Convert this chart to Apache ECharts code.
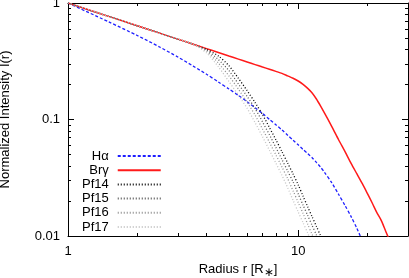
<!DOCTYPE html>
<html>
<head>
<meta charset="utf-8">
<script src="https://cdn.jsdelivr.net/npm/echarts@6/dist/echarts.min.js"></script>
<style>
html,body{margin:0;padding:0;background:#fff;}
#chart{width:409px;height:278px;}
</style>
</head>
<body>
<div id="chart"></div>
<script>
// Radius grid (in stellar radii)
var radius = [1, 1.5, 2, 2.5, 3, 3.5, 4, 4.5, 5, 5.5, 6, 6.5, 7, 7.5, 8, 8.5, 9, 9.5, 10, 10.5, 11, 11.5, 12, 12.5, 13, 14, 15, 16, 17, 18, 19, 20, 21, 22, 23, 24, 25];

// Normalized intensity profiles I(r)
var halpha = [1, 0.69, 0.526, 0.419, 0.344, 0.287, 0.2445, 0.21, 0.183, 0.161, 0.142, 0.126, 0.1125, 0.1003, 0.0901, 0.0813, 0.0733, 0.0665, 0.0606, 0.0553, 0.051, 0.047, 0.0428, 0.039, 0.0353, 0.0286, 0.0227, 0.0182, 0.0146, 0.0116, 0.0091, null, null, null, null, null, null];
var brgamma = [1, 0.768, 0.637, 0.551, 0.49, 0.443, 0.406, 0.376, 0.351, 0.33, 0.312, 0.296, 0.282, 0.27, 0.259, 0.249, 0.237, 0.226, 0.214, 0.2, 0.185, 0.169, 0.15, 0.131, 0.114, 0.087, 0.0667, 0.0527, 0.0418, 0.0341, 0.0281, 0.0231, 0.0191, 0.0158, 0.0135, 0.011, 0.0091];
var pf14 = [1, 0.768, 0.637, 0.551, 0.49, 0.443, 0.4, 0.351, 0.29, 0.2255, 0.177, 0.1397, 0.11, 0.0854, 0.067, 0.053, 0.0423, 0.0341, 0.0275, 0.022, 0.0178, 0.0146, 0.0121, 0.0101, 0.0085, null, null, null, null, null, null, null, null, null, null, null, null];
var pf15 = [1, 0.768, 0.637, 0.551, 0.49, 0.443, 0.395, 0.327, 0.263, 0.202, 0.158, 0.124, 0.0954, 0.0739, 0.0576, 0.0454, 0.0361, 0.0292, 0.023, 0.0184, 0.015, 0.0123, 0.0102, 0.0085, null, null, null, null, null, null, null, null, null, null, null, null, null];
var pf16 = [1, 0.768, 0.637, 0.551, 0.49, 0.443, 0.385, 0.305, 0.237, 0.182, 0.141, 0.109, 0.0829, 0.0638, 0.0497, 0.0391, 0.0311, 0.0245, 0.0194, 0.0156, 0.0126, 0.0103, 0.0086, null, null, null, null, null, null, null, null, null, null, null, null, null, null];
var pf17 = [1, 0.768, 0.637, 0.551, 0.49, 0.443, 0.372, 0.284, 0.212, 0.162, 0.125, 0.0939, 0.0712, 0.0544, 0.0423, 0.0332, 0.026, 0.0203, 0.0161, 0.013, 0.0106, 0.0086, null, null, null, null, null, null, null, null, null, null, null, null, null, null, null];

// Tick values
var xMajorTicks = [1, 10];
var xMinorTicks = [2, 3, 4, 5, 6, 7, 8, 9, 20];
var yMajorTicks = [0.01, 0.1, 1];
var yMinorTicks = [0.02, 0.03, 0.04, 0.05, 0.06, 0.07, 0.08, 0.09, 0.2, 0.3, 0.4, 0.5, 0.6, 0.7, 0.8, 0.9];

var seriesNames = ['H\u03b1', 'Br\u03b3', 'Pf14', 'Pf15', 'Pf16', 'Pf17'];

function pairs(vals) {
  var out = [];
  for (var i = 0; i < radius.length; i++) {
    if (vals[i] != null) out.push([radius[i], vals[i]]);
  }
  return out;
}

var FONT = 'Liberation Sans, Arial, Helvetica, sans-serif';

function xAxisDef(pos, ticks, len, showLabel, showLine, extra) {
  var a = {
    type: 'log', logBase: 10, min: 1, max: 30, position: pos, gridIndex: 0,
    axisLine: { show: showLine, lineStyle: { color: '#000', width: 1 } },
    axisTick: { show: true, inside: true, length: len, customValues: ticks, lineStyle: { color: '#000', width: 1 } },
    axisLabel: { show: showLabel, customValues: ticks, margin: 9, color: '#000', fontSize: 13, fontFamily: FONT },
    splitLine: { show: false }, minorTick: { show: false }
  };
  if (extra) for (var k in extra) a[k] = extra[k];
  return a;
}
function yAxisDef(pos, ticks, len, showLabel, showLine, extra) {
  var a = {
    type: 'log', logBase: 10, min: 0.01, max: 1, position: pos, gridIndex: 0,
    axisLine: { show: showLine, lineStyle: { color: '#000', width: 1 } },
    axisTick: { show: true, inside: true, length: len, customValues: ticks, lineStyle: { color: '#000', width: 1 } },
    axisLabel: { show: showLabel, customValues: ticks, margin: 8, color: '#000', fontSize: 13, fontFamily: FONT },
    splitLine: { show: false }, minorTick: { show: false }
  };
  if (extra) for (var k in extra) a[k] = extra[k];
  return a;
}

var chart = echarts.init(document.getElementById('chart'), null, { renderer: 'canvas' });

var lineStyles = [
  { color: '#1f1fff', width: 1.3, type: [3, 2] },
  { color: '#ff1a1a', width: 1.5, type: 'solid' },
  { color: '#000000', width: 1.3, type: [1, 2] },
  { color: '#555555', width: 1.3, type: [1, 2] },
  { color: '#909090', width: 1.3, type: [1, 2] },
  { color: '#c4c4c4', width: 1.3, type: [1, 2] }
];
var dataSets = [halpha, brgamma, pf14, pf15, pf16, pf17];

var series = seriesNames.map(function (name, i) {
  return {
    name: name, type: 'line', xAxisIndex: 0, yAxisIndex: 0,
    data: pairs(dataSets[i]), symbol: 'none', showSymbol: false,
    smooth: 0.25,
    lineStyle: lineStyles[i], itemStyle: { color: lineStyles[i].color },
    clip: true, animation: false, z: 2 + i
  };
});

chart.setOption({
  animation: false,
  backgroundColor: '#fff',
  textStyle: { fontFamily: FONT },
  grid: { left: 68, right: 1, top: 3, bottom: 42, containLabel: false, outerBoundsMode: 'none' },
  legend: {
    orient: 'vertical', align: 'right', left: 77, top: 144,
    itemWidth: 43, itemHeight: 10, itemGap: 0.2,
    itemStyle: { opacity: 0, borderWidth: 0 },
    textStyle: { color: '#000', fontSize: 13, fontFamily: FONT, lineHeight: 14, padding: [0, 4, 0, 0] },
    data: seriesNames
  },
  xAxis: [
    xAxisDef('bottom', xMajorTicks, 6, true, true, {
      name: '{a|Radius r [R}{s|\u2217}{a|]}', nameLocation: 'middle', nameGap: 12,
      nameTextStyle: { color: '#000', fontSize: 13, fontFamily: FONT,
        rich: { a: { fontSize: 13, fontFamily: FONT, color: '#000' }, s: { fontSize: 12, fontFamily: 'DejaVu Sans', color: '#000', padding: [6, 0, 0, 0] } } }
    }),
    xAxisDef('bottom', xMinorTicks, 3, false, false),
    xAxisDef('top', xMajorTicks, 6, false, true),
    xAxisDef('top', xMinorTicks, 3, false, false)
  ],
  yAxis: [
    yAxisDef('left', yMajorTicks, 6, true, true, {
      name: 'Normalized Intensity I(r)', nameLocation: 'middle', nameGap: 56, nameRotate: 90,
      nameTextStyle: { color: '#000', fontSize: 13, fontFamily: FONT }
    }),
    yAxisDef('left', yMinorTicks, 3, false, false),
    yAxisDef('right', yMajorTicks, 6, false, true),
    yAxisDef('right', yMinorTicks, 3, false, false)
  ],
  series: series
});
</script>
</body>
</html>
